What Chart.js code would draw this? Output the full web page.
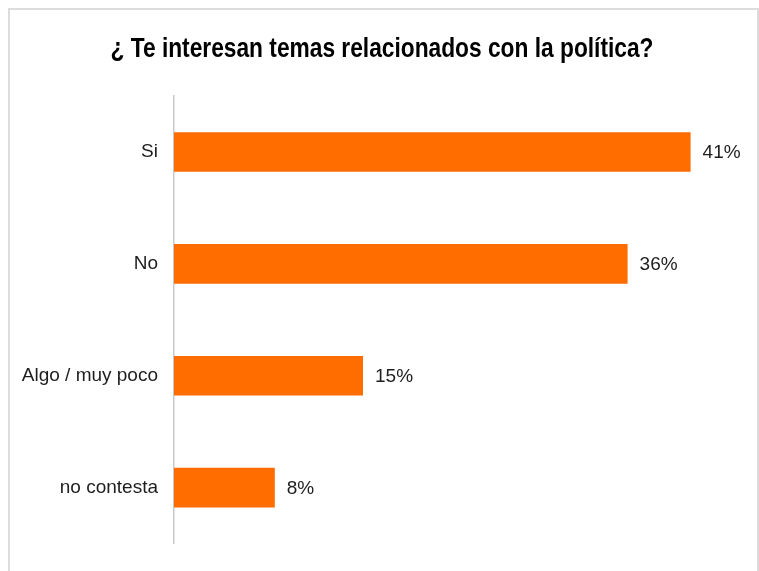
<!DOCTYPE html>
<html>
<head>
<meta charset="utf-8">
<script src="https://cdn.jsdelivr.net/npm/chart.js@4/dist/chart.umd.min.js"></script>
<style>
  html, body { margin: 0; padding: 0; background: #fff; }
  #frame { position: absolute; left: 8px; top: 8px; width: 747px; height: 600px; border: 2px solid #dcdcdc; }
  #wrap { position: absolute; left: 0; top: 0; width: 759px; height: 571px; }
</style>
</head>
<body>
<div id="frame"></div>
<div id="wrap"><canvas id="chart"></canvas></div>
<script>
'use strict';

// Survey answers and their shares (%)
const categories = ['Si', 'No', 'Algo / muy poco', 'no contesta'];
const shares = [41, 36, 15, 8];
const titleText = '¿ Te interesan temas relacionados con la política?';

// Narrow bold title (no condensed font installed, so squeeze Liberation Sans)
const narrowTitle = {
  id: 'narrowTitle',
  beforeDraw(chart) {
    const ctx = chart.ctx;
    ctx.save();
    ctx.font = 'bold 28px "Liberation Sans", Arial, sans-serif';
    ctx.fillStyle = '#000';
    ctx.textAlign = 'center';
    ctx.textBaseline = 'alphabetic';
    const w = ctx.measureText(titleText).width;
    const sx = 543 / w;
    ctx.translate(382, 57);
    ctx.scale(sx, 1);
    ctx.fillText(titleText, 0, 0);
    ctx.restore();
  }
};

// Writes "xx%" just right of each bar
const valueLabels = {
  id: 'valueLabels',
  afterDatasetsDraw(chart) {
    const ctx = chart.ctx;
    const meta = chart.getDatasetMeta(0);
    ctx.save();
    ctx.font = '19px "Liberation Sans", Arial, sans-serif';
    ctx.fillStyle = '#1e1e1e';
    ctx.textAlign = 'left';
    ctx.textBaseline = 'middle';
    meta.data.forEach((bar, i) => {
      ctx.fillText(shares[i] + '%', bar.x + 12, bar.y + 1);
    });
    ctx.restore();
  }
};

const ctx = document.getElementById('chart').getContext('2d');
new Chart(ctx, {
  type: 'bar',
  data: {
    labels: categories,
    datasets: [{
      data: shares,
      backgroundColor: '#FF6C00',
      categoryPercentage: 1,
      barPercentage: 0.354
    }]
  },
  options: {
    indexAxis: 'y',
    responsive: true,
    maintainAspectRatio: false,
    animation: false,
    layout: { padding: { left: 0, right: 18, top: 96, bottom: 22 } },
    plugins: {
      legend: { display: false },
      tooltip: { enabled: false },
      title: { display: false }
    },
    scales: {
      x: { display: false, min: 0, max: 45 },
      y: {
        afterFit(scale) { scale.width = 174; },
        grid: { display: false, drawTicks: false },
        border: { display: true, color: '#c8c8c8', width: 1.5 },
        ticks: {
          padding: 16,
          color: '#1e1e1e',
          font: { family: '"Liberation Sans", Arial, sans-serif', size: 19 }
        }
      }
    }
  },
  plugins: [narrowTitle, valueLabels]
});
</script>
</body>
</html>
